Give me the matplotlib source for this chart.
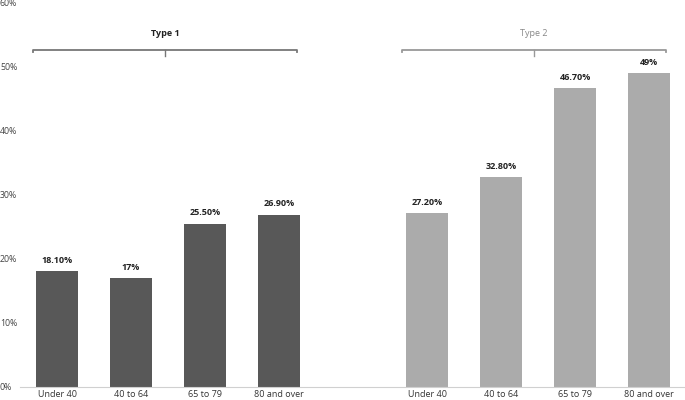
import matplotlib.pyplot as plt
from matplotlib.ticker import FuncFormatter

categories = ['Under 40', '40 to 64', '65 to 79', '80 and over']
type1 = [18.1, 17.0, 25.5, 26.9]
type2 = [27.2, 32.8, 46.7, 49.0]
labels1 = ['18.10%', '17%', '25.50%', '26.90%']
labels2 = ['27.20%', '32.80%', '46.70%', '49%']
groups = ['Type 1', 'Type 2']

plt.rcParams['font.family'] = ['Open Sans', 'DejaVu Sans']

fig = plt.figure(figsize=(6.85, 4), dpi=100)
ax = fig.add_axes([20 / 685, 13 / 400, 666 / 685, 384 / 400])

x1 = list(range(4))
x2 = [i + 5 for i in range(4)]
w = 0.58
ax.bar(x1, type1, width=w, color='#585858')
ax.bar(x2, type2, width=w, color='#ababab')

for x, v, t in zip(x1 + x2, type1 + type2, labels1 + labels2):
    ax.text(x, v + 1.0, t, ha='center', va='bottom', fontsize=6.5,
            fontweight='bold', color='#222222')

ax.set_xlim(-0.5, 8.5)
ax.set_ylim(0, 60)
ax.set_xticks(x1 + x2)
ax.set_xticklabels(categories * 2, fontsize=6.5, color='#333333')
ax.set_yticks(range(0, 61, 10))
ax.yaxis.set_major_formatter(FuncFormatter(lambda v, p: f'{int(v)}%'))
ax.tick_params(axis='y', length=0, labelsize=6.3, labelcolor='#444444', pad=0)
ax.tick_params(axis='x', length=0, pad=2)
for lab in ax.get_yticklabels():
    lab.set_horizontalalignment('left')
    lab.set_x(-20 / 666)

for s in ['top', 'right', 'left']:
    ax.spines[s].set_visible(False)
ax.spines['bottom'].set_color('#d0d0d0')

# group brackets
brackets = [(-0.32, 3.24, '#777777', 'bold', '#222222'),
            (4.66, 8.23, '#999999', 'normal', '#888888')]
yb = 52.7
for (a, b, lc, fw, tc), g in zip(brackets, groups):
    ax.plot([a, a, b, b], [yb - 0.35, yb, yb, yb - 0.35], color=lc, lw=1.3,
            clip_on=False)
    m = (a + b) / 2
    ax.plot([m, m], [yb, yb - 1.0], color=lc, lw=1.0)
    ax.text(m, yb + 1.8, g, ha='center', va='bottom', fontsize=6.5,
            fontweight=fw, color=tc)

fig.savefig('out.png', dpi=100)
